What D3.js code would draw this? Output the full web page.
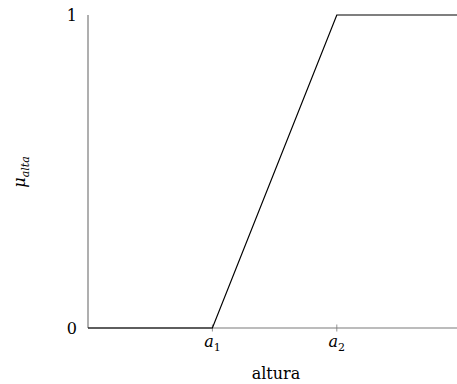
<!DOCTYPE html>
<html>
<head>
<meta charset="utf-8">
<script src="https://cdn.jsdelivr.net/npm/d3@7"></script>
<style>
  html, body { margin: 0; padding: 0; background: #fff; }
  svg { display: block; }
  text { font-family: "DejaVu Serif", "Liberation Serif", serif; fill: #000; }
</style>
</head>
<body>
<svg id="chart" width="457" height="384"></svg>
<script>
// Membership function for "alta" (tall): 0 up to a1, ramps to 1 at a2, stays 1.
const heightPoints = [0, 1, 2, 3];
const membership = [0, 0, 1, 1];
const xTickValues = [1, 2];
const xTickLabels = ["1", "2"];
const yTickValues = [0, 1];
const yTickLabels = ["0", "1"];

const svg = d3.select("#chart");
const x = d3.scaleLinear().domain([0, 3]).range([88, 461.2]);
const y = d3.scaleLinear().domain([0, 1]).range([328, 15]);
const axisColor = "#7a7a7a";

// Axis lines
svg.append("line")
  .attr("x1", x(0)).attr("x2", 457)
  .attr("y1", y(0)).attr("y2", y(0))
  .attr("stroke", axisColor).attr("stroke-width", 1.2);
svg.append("line")
  .attr("x1", x(0)).attr("x2", x(0))
  .attr("y1", y(0)).attr("y2", y(1))
  .attr("stroke", axisColor).attr("stroke-width", 1.2);

// X ticks (a1, a2)
const xt = svg.append("g");
xTickValues.forEach((v, i) => {
  xt.append("line")
    .attr("x1", x(v)).attr("x2", x(v))
    .attr("y1", y(0) - 3.5).attr("y2", y(0) + 3.5)
    .attr("stroke", axisColor).attr("stroke-width", 0.8);
  const t = xt.append("text")
    .attr("x", x(v)).attr("y", y(0) + 19)
    .attr("text-anchor", "middle")
    .attr("font-size", 16);
  t.append("tspan").attr("font-style", "italic").text("a");
  t.append("tspan").attr("font-size", 11).attr("dy", 4).text(xTickLabels[i]);
});

// Y tick labels
yTickValues.forEach((v, i) => {
  svg.append("text")
    .attr("x", 77).attr("y", y(v) + 6)
    .attr("text-anchor", "end")
    .attr("font-size", 16)
    .text(yTickLabels[i]);
});

// Axis titles
svg.append("text")
  .attr("x", 276).attr("y", 379)
  .attr("text-anchor", "middle")
  .attr("font-size", 16)
  .text("altura");

const yl = svg.append("text")
  .attr("transform", `translate(25, 172) rotate(-90)`)
  .attr("text-anchor", "middle")
  .attr("font-size", 16)
  .attr("font-style", "italic");
yl.append("tspan").text("μ");
yl.append("tspan").attr("font-size", 11).attr("dy", 4).text("alta");

// Membership curve
const line = d3.line().x((d, i) => x(heightPoints[i])).y(d => y(d));
svg.append("path")
  .datum(membership)
  .attr("d", line)
  .attr("fill", "none")
  .attr("stroke", "#000")
  .attr("stroke-width", 1.2);
</script>
</body>
</html>
